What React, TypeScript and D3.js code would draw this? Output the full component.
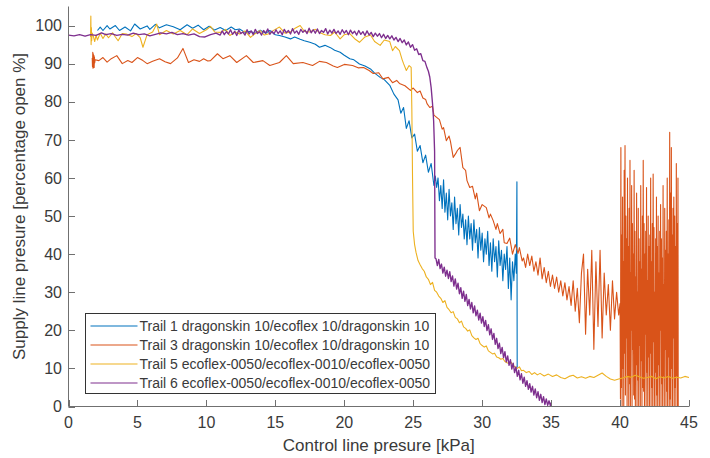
import React from 'react';
import * as d3 from 'd3';

type Pt = [number, number];

const xTicks = [0, 5, 10, 15, 20, 25, 30, 35, 40, 45];
const yTicks = [0, 10, 20, 30, 40, 50, 60, 70, 80, 90, 100];
const seriesNames = [
  'Trail 1 dragonskin 10/ecoflex 10/dragonskin 10',
  'Trail 3 dragonskin 10/ecoflex 10/dragonskin 10',
  'Trail 5 ecoflex-0050/ecoflex-0010/ecoflex-0050',
  'Trail 6 ecoflex-0050/ecoflex-0010/ecoflex-0050',
];
const seriesColors = ['#0072BD', '#D95319', '#EDB120', '#7E2F8E'];
const xLabel = 'Control line presure [kPa]';
const yLabel = 'Supply line presure [percentage open %]';

const trail1: Pt[] = [
  [2.1,98.7],[2.3,99.6],[2.5,98.7],[2.8,100.0],[3.0,99.1],[3.4,100.0],[3.7,98.7],[4.1,99.6],[4.5,98.6],[4.8,100.4],
  [5.2,99.1],[5.7,99.9],[5.9,99.0],[6.3,100.3],[6.6,99.4],[7.1,100.2],[7.6,99.7],[8.1,98.9],[8.6,100.2],[9.0,99.3],
  [9.4,100.1],[9.8,98.9],[10.2,99.8],[10.6,98.8],[11.0,99.5],[11.4,98.7],[11.8,99.6],[12.1,98.9],[12.4,99.1],[12.8,98.2],
  [13.2,98.5],[13.5,97.9],[13.9,98.8],[14.3,98.0],[14.6,98.7],[15.0,97.6],[15.3,97.4],[15.7,97.0],[16.1,96.5],[16.4,97.0],
  [16.8,96.4],[17.1,96.0],[17.5,95.6],[17.9,95.1],[18.2,94.3],[18.6,94.8],[19.0,94.2],[19.3,93.5],[19.7,93.0],[20.0,92.2],
  [20.4,91.3],[20.7,91.0],[21.1,89.9],[21.5,89.4],[21.9,88.6],[22.2,87.5],[22.6,86.4],[22.9,85.8],[23.3,84.3],[23.6,82.0],
  [23.9,80.5],[24.1,77.0],[24.3,78.5],[24.5,73.0],[24.7,75.0],[24.9,70.5],[25.1,71.5],[25.3,67.0],[25.5,68.5],[25.7,64.0],
  [25.9,66.0],[26.1,61.5],[26.3,63.8],[26.5,58.0],[26.6,60.5],[26.7,57.5],[26.8,60.0],[26.9,54.0],[27.0,58.0],[27.1,52.0],
  [27.2,59.5],[27.3,51.0],[27.4,56.0],[27.5,49.0],[27.6,57.0],[27.7,50.0],[27.8,53.5],[27.9,46.5],[28.0,55.0],[28.1,48.0],
  [28.2,52.0],[28.3,45.0],[28.4,53.0],[28.5,47.0],[28.6,50.5],[28.7,44.0],[28.8,49.0],[28.9,42.5],[29.0,50.0],[29.1,44.0],
  [29.2,48.0],[29.3,41.0],[29.4,49.0],[29.5,43.0],[29.6,46.5],[29.7,39.0],[29.8,47.0],[29.9,41.0],[30.0,45.5],[30.1,38.0],
  [30.2,44.0],[30.3,40.0],[30.4,46.0],[30.5,37.0],[30.6,43.0],[30.7,35.5],[30.8,44.0],[30.9,38.0],[31.0,42.0],[31.1,34.0],
  [31.2,43.5],[31.3,37.0],[31.4,41.0],[31.5,33.0],[31.6,40.0],[31.7,36.0],[31.8,42.0],[31.9,31.0],[32.0,39.0],[32.1,28.0],
  [32.2,38.0],[32.3,33.0],[32.4,40.0],[32.48,35.0],[32.52,59.0],[32.54,10.2],
];

const trail3: Pt[] = [
  [1.72,91.5],[1.74,89.2],[1.76,93.0],[1.78,88.8],[1.80,92.6],[1.82,89.6],[1.84,92.2],[1.86,89.0],[1.88,91.8],[1.90,90.2],
  [1.93,91.0],[2.2,90.8],[2.5,91.6],[2.8,90.4],[3.1,91.3],[3.5,92.1],[3.9,90.0],[4.3,90.8],[4.6,90.3],[5.0,91.6],
  [5.4,90.8],[5.7,90.0],[6.1,90.6],[6.6,91.3],[7.0,90.5],[7.4,90.0],[7.9,91.5],[8.3,94.0],[8.7,90.3],[9.1,91.0],
  [9.5,90.6],[9.8,91.3],[10.1,90.7],[10.3,90.8],[10.8,92.6],[11.2,91.3],[11.7,92.1],[12.2,90.3],[12.9,92.1],[13.4,90.3],
  [14.1,90.8],[14.6,89.5],[15.3,90.3],[15.8,92.1],[16.3,90.0],[17.0,90.3],[17.7,89.5],[18.2,90.6],[18.7,90.3],[19.2,89.4],
  [19.5,89.0],[20.0,89.8],[20.6,89.5],[21.0,88.9],[21.4,89.0],[21.8,88.2],[22.1,87.4],[22.5,87.6],[22.8,86.0],[23.2,86.4],
  [23.5,85.0],[23.8,85.6],[24.0,84.8],[24.4,84.2],[24.8,83.0],[25.0,83.6],[25.3,82.4],[25.5,82.8],[25.7,81.0],[25.9,80.6],
  [26.0,79.5],[26.2,78.5],[26.4,78.8],[26.5,76.5],[26.7,75.9],[26.9,75.3],[27.1,72.8],[27.2,73.2],[27.4,69.8],[27.6,71.0],
  [27.7,69.6],[27.9,65.4],[28.1,66.5],[28.2,67.2],[28.4,68.0],[28.6,62.7],[28.8,62.0],[28.9,59.3],[29.1,57.5],[29.3,57.8],
  [29.5,54.5],[29.6,56.0],[29.8,51.4],[30.0,53.0],[30.3,52.2],[30.5,49.5],[30.6,50.5],[30.8,48.8],[31.0,46.5],[31.1,48.0],
  [31.3,45.4],[31.5,46.5],[31.6,43.0],[31.8,42.8],[32.0,44.2],[32.2,40.0],[32.4,42.5],[32.6,40.2],[32.7,41.7],[32.9,38.2],
  [33.0,39.0],[33.15,36.5],[33.3,40.0],[33.45,37.0],[33.6,39.5],[33.75,35.5],[33.9,38.0],[34.05,34.5],[34.2,39.0],[34.35,33.5],
  [34.5,36.5],[34.65,32.5],[34.8,35.5],[34.95,31.5],[35.1,34.5],[35.25,31.0],[35.4,34.0],[35.55,30.0],[35.7,33.0],[35.85,29.0],
  [36.0,32.5],[36.15,28.0],[36.3,31.5],[36.45,26.5],[36.6,33.0],[36.75,25.0],[36.9,31.0],[37.05,22.0],[37.2,35.0],[37.35,40.0],
  [37.5,19.0],[37.65,36.0],[37.8,24.0],[37.95,41.0],[38.1,15.0],[38.25,38.0],[38.4,21.0],[38.55,41.0],[38.7,18.0],[38.85,35.0],
  [39.0,24.0],[39.15,32.0],[39.3,20.0],[39.45,33.0],[39.6,23.0],[39.75,30.0],[39.9,24.0],
  [40.00,27],[40.03,2],[40.06,68],[40.09,5],[40.12,45],[40.15,0],[40.18,55],[40.21,10],[40.24,38],[40.27,0],
  [40.30,62],[40.33,14],[40.36,68.5],[40.39,3],[40.42,50],[40.45,18],[40.48,44],[40.51,0],[40.54,60],[40.57,8],
  [40.60,42],[40.63,0],[40.66,52],[40.69,6],[40.72,64.6],[40.75,0],[40.78,35],[40.81,20],[40.84,58],[40.87,0],
  [40.90,48],[40.93,15],[40.96,40],[40.99,3],[41.02,62],[41.05,2],[41.08,46],[41.11,0],[41.14,34],[41.17,11],
  [41.20,56],[41.23,0],[41.26,30],[41.29,7],[41.32,52],[41.35,0],[41.38,44],[41.41,16],[41.44,38],[41.47,0],
  [41.50,58],[41.53,12],[41.56,36],[41.59,0],[41.62,50],[41.65,5],[41.68,64.6],[41.71,4],[41.74,48],[41.77,0],
  [41.80,40],[41.83,19],[41.86,46],[41.89,0],[41.92,57.5],[41.95,9],[41.98,33],[42.01,0],[42.04,50],[42.07,13],
  [42.10,42],[42.13,0],[42.16,45],[42.19,14],[42.22,60],[42.25,0],[42.28,38],[42.31,5],[42.34,48],[42.37,0],
  [42.40,61],[42.43,17],[42.46,47],[42.49,0],[42.52,30],[42.55,9],[42.58,44],[42.61,0],[42.64,55],[42.67,3],
  [42.70,42],[42.73,0],[42.76,50],[42.79,11],[42.82,35],[42.85,0],[42.88,46],[42.91,20],[42.94,53],[42.97,0],
  [43.00,44],[43.03,6],[43.06,39],[43.09,0],[43.12,58],[43.15,8],[43.18,32],[43.21,0],[43.24,52],[43.27,15],
  [43.30,41],[43.33,0],[43.36,46],[43.39,4],[43.42,60],[43.45,0],[43.48,40],[43.51,13],[43.54,49],[43.57,0],
  [43.60,72],[43.63,2],[43.66,56],[43.69,0],[43.72,68],[43.75,10],[43.78,45],[43.81,0],[43.84,52],[43.87,18],
  [43.90,55],[43.93,0],[43.96,50],[43.99,5],[44.02,42],[44.05,0],[44.08,63.8],[44.11,8],[44.14,48],[44.17,0],
  [44.20,60],[44.22,0],
];

const trail5: Pt[] = [
  [1.60,97.0],[1.62,102.5],[1.64,95.0],[1.66,99.5],[1.68,96.0],[1.72,98.0],[1.8,97.2],[1.9,95.8],[2.0,97.5],[2.1,96.2],
  [2.3,98.0],[2.5,96.6],[2.7,97.8],[2.9,96.8],[3.2,98.1],[3.4,97.0],[3.6,96.0],[3.9,97.9],[4.2,97.8],[4.6,97.1],
  [4.9,97.9],[5.2,96.8],[5.4,94.3],[5.6,96.5],[5.7,97.6],[6.1,98.3],[6.4,100.4],[6.6,97.6],[7.1,98.7],[7.6,97.8],
  [8.1,98.7],[8.6,97.6],[9.0,99.1],[9.5,97.9],[10.0,98.9],[10.3,99.8],[10.6,98.3],[11.0,98.2],[11.4,99.0],[11.7,97.4],
  [12.1,98.3],[12.4,97.8],[12.8,98.6],[13.2,96.9],[13.5,97.8],[13.9,98.7],[14.2,97.5],[14.6,97.9],[14.9,98.8],[15.3,99.6],
  [15.7,98.0],[16.1,98.3],[16.4,99.2],[16.8,100.0],[17.1,98.5],[17.5,98.3],[17.9,99.0],[18.2,98.2],[18.6,97.6],[19.0,97.4],
  [19.3,98.3],[19.7,96.5],[20.0,97.6],[20.4,97.9],[20.8,96.4],[21.1,95.6],[21.5,97.0],[21.9,97.5],[22.2,95.8],[22.6,94.8],
  [22.9,96.2],[23.3,95.8],[23.5,93.4],[23.7,94.5],[24.0,93.4],[24.2,91.0],[24.3,90.0],[24.5,88.2],[24.7,89.5],[24.85,89.0],
  [24.9,78.0],[24.95,60.0],[25.0,46.0],[25.1,42.5],[25.2,40.5],[25.35,38.3],[25.5,37.2],[25.65,36.2],[25.8,35.5],[25.95,34.0],
  [26.1,33.4],[26.25,32.0],[26.4,32.6],[26.55,30.5],[26.7,30.0],[26.85,29.0],[27.0,28.4],[27.15,27.3],[27.3,27.8],[27.45,26.0],
  [27.6,25.4],[27.75,24.6],[27.9,24.9],[28.05,23.4],[28.2,23.0],[28.35,22.0],[28.5,22.4],[28.65,20.9],[28.8,20.5],[28.95,19.8],
  [29.1,20.1],[29.25,18.6],[29.4,18.0],[29.55,17.6],[29.7,17.9],[29.85,16.5],[30.0,16.0],[30.15,15.6],[30.3,15.9],[30.45,14.6],
  [30.6,14.2],[30.75,13.8],[30.9,14.0],[31.05,13.0],[31.2,12.8],[31.35,12.4],[31.5,12.6],[31.65,11.8],[31.8,11.5],[31.95,11.3],
  [32.1,11.6],[32.25,10.8],[32.4,10.3],[32.55,10.0],[32.7,10.4],[32.85,9.4],[33.0,9.5],[33.2,8.9],[33.4,9.2],[33.6,8.4],
  [33.8,8.9],[34.0,8.3],[34.2,8.7],[34.5,8.0],[34.8,8.5],[35.1,7.9],[35.4,8.3],[35.7,7.6],[36.0,7.3],[36.3,7.9],
  [36.6,8.2],[36.9,7.5],[37.2,7.8],[37.5,7.4],[37.8,7.9],[38.1,7.6],[38.4,8.2],[38.7,8.8],[39.0,7.9],[39.3,7.2],
  [39.6,6.9],[39.9,7.2],[40.2,7.5],[40.5,7.9],[40.8,7.7],[41.1,8.2],[41.4,7.8],[41.7,7.4],[42.0,7.6],[42.3,7.9],
  [42.6,7.3],[42.9,7.8],[43.2,7.5],[43.5,7.9],[43.8,7.4],[44.1,7.7],[44.4,7.5],[44.7,7.9],[45.0,7.6],
];

const trail6: Pt[] = [
  [0.0,97.5],[0.4,97.3],[0.8,97.6],[1.2,97.2],[1.6,97.6],[2.0,97.4],[2.4,98.1],[2.7,97.6],[3.1,97.9],[3.5,97.4],
  [3.9,97.7],[4.3,97.5],[4.7,98.0],[5.1,97.6],[5.5,97.8],[5.9,97.3],[6.3,97.7],[6.7,98.1],[7.1,97.8],[7.5,98.2],
  [7.9,97.6],[8.3,97.9],[8.7,97.5],[9.1,97.8],[9.5,97.1],[9.9,97.0],[10.3,97.6],[10.7,98.0],[11.0,97.5],
  [11.15,98.6],[11.3,97.6],[11.45,98.4],[11.6,97.8],[11.75,98.9],[11.9,97.7],[12.05,98.5],[12.2,97.4],[12.35,98.8],[12.5,97.9],
  [12.65,98.3],[12.8,97.5],[12.95,98.9],[13.1,97.8],[13.25,98.6],[13.4,97.6],[13.55,99.0],[13.7,97.9],[13.85,98.4],[14.0,97.5],
  [14.15,98.7],[14.3,98.0],[14.45,99.1],[14.6,97.7],[14.75,98.5],[14.9,97.8],[15.05,98.9],[15.2,97.9],[15.35,98.6],[15.5,97.6],
  [15.65,99.0],[15.8,98.1],[15.95,98.7],[16.1,97.8],[16.25,99.2],[16.4,98.0],[16.55,98.6],[16.7,97.7],[16.85,99.0],[17.0,98.2],
  [17.15,98.8],[17.3,97.9],[17.45,99.3],[17.6,98.1],[17.75,98.9],[17.9,98.0],[18.05,99.1],[18.2,97.9],[18.35,98.7],[18.5,98.2],
  [18.65,99.2],[18.8,97.8],[18.95,98.8],[19.1,98.0],[19.25,99.0],[19.4,97.9],[19.55,98.6],[19.7,97.7],[19.85,98.9],[20.0,98.0],
  [20.15,98.7],[20.3,97.6],[20.45,98.8],[20.6,97.9],[20.75,98.5],[20.9,97.5],[21.05,98.7],[21.2,97.7],[21.35,98.4],[21.5,97.4],
  [21.65,98.6],[21.8,97.5],[21.95,98.2],[22.1,97.1],[22.25,98.0],[22.4,97.2],[22.55,97.9],[22.7,96.8],[22.85,97.7],[23.0,96.6],
  [23.15,97.4],[23.3,96.5],[23.45,97.3],[23.6,96.2],[23.75,96.9],[23.9,95.8],[24.05,96.6],[24.2,95.5],[24.35,96.2],[24.5,94.9],
  [24.65,95.7],[24.8,94.3],[24.95,95.0],[25.1,93.5],[25.25,93.9],[25.4,92.4],[25.55,92.6],[25.7,90.8],[25.85,90.6],[26.0,88.9],
  [26.1,88.0],[26.2,86.5],[26.3,83.7],[26.4,79.5],[26.48,75.0],[26.55,67.0],[26.58,39.0],
  [26.65,38.8],[26.75,37.0],[26.85,38.6],[26.95,36.2],[27.05,37.4],[27.15,35.0],[27.25,36.6],[27.35,34.2],[27.45,35.8],[27.55,33.6],
  [27.65,35.4],[27.75,32.8],[27.85,34.3],[27.95,31.6],[28.05,33.5],[28.15,30.8],[28.25,32.4],[28.35,29.6],[28.45,31.2],[28.55,28.4],
  [28.65,30.3],[28.75,27.6],[28.85,29.4],[28.95,26.5],[29.05,28.1],[29.15,25.6],[29.25,27.3],[29.35,24.6],[29.45,26.4],[29.55,23.8],
  [29.65,25.3],[29.75,22.7],[29.85,24.5],[29.95,21.9],[30.05,23.6],[30.15,21.0],[30.25,22.6],[30.35,19.9],[30.45,21.5],[30.55,18.8],
  [30.65,20.4],[30.75,17.6],[30.85,19.2],[30.95,16.3],[31.05,17.9],[31.15,15.2],[31.25,16.6],[31.35,13.9],[31.45,15.5],[31.55,12.8],
  [31.65,14.4],[31.75,11.7],[31.85,13.3],[31.95,10.8],[32.05,12.3],[32.15,9.8],[32.25,11.4],[32.35,8.9],[32.45,10.4],[32.55,7.9],
  [32.65,9.5],[32.75,7.0],[32.85,8.6],[32.95,6.1],[33.05,7.7],[33.15,5.3],[33.25,6.8],[33.35,4.5],[33.45,6.0],[33.55,3.8],
  [33.65,5.3],[33.75,3.0],[33.85,4.6],[33.95,2.3],[34.05,3.9],[34.15,1.6],[34.25,3.2],[34.35,1.0],[34.45,2.6],[34.55,0.5],
  [34.65,2.0],[34.75,0.3],[34.85,1.5],[34.95,0.2],[35.0,1.0],
];

const seriesData: Pt[][] = [trail1, trail3, trail5, trail6];
const seriesWidths = [1.1, 1.1, 1.1, 1.35];

export default function App() {
  const W = 710;
  const H = 458;
  const x = d3.scaleLinear().domain([0, 45]).range([68.5, 689]);
  const y = d3.scaleLinear().domain([0, 105]).range([406.5, 6.5]);
  const line = d3
    .line<Pt>()
    .x((d) => x(d[0]))
    .y((d) => y(d[1]));
  const axisColor = '#707070';
  const textColor = '#3a3a3a';
  const font = "'Liberation Sans', Arial, sans-serif";
  const tickLen = 6.5;

  const legX = 85.5;
  const legY = 313.5;
  const legW = 350;
  const legH = 80;
  const rowH = 19;

  return (
    <svg
      width={W}
      height={H}
      viewBox={`0 0 ${W} ${H}`}
      style={{ position: 'absolute', left: 0, top: 0, background: '#fff' }}
      fontFamily={font}
    >
      <rect x={0} y={0} width={W} height={H} fill="#fff" />
      {seriesData.map((d, i) => (
        <path
          key={i}
          d={line(d) || ''}
          fill="none"
          stroke={seriesColors[i]}
          strokeWidth={seriesWidths[i]}
          strokeLinejoin="round"
        />
      ))}
      <line x1={x(0)} x2={x(45)} y1={406.5} y2={406.5} stroke={axisColor} strokeWidth={1} />
      <line x1={68.5} x2={68.5} y1={y(105)} y2={y(0)} stroke={axisColor} strokeWidth={1} />
      {xTicks.map((t) => (
        <g key={'x' + t}>
          <line
            x1={Math.round(x(t)) + 0.5}
            x2={Math.round(x(t)) + 0.5}
            y1={406.5}
            y2={406.5 - tickLen}
            stroke={axisColor}
          />
          <text x={x(t)} y={428} textAnchor="middle" fontSize={16} fill={textColor}>
            {t}
          </text>
        </g>
      ))}
      {yTicks.map((t) => (
        <g key={'y' + t}>
          <line
            x1={68.5}
            x2={68.5 + tickLen}
            y1={Math.round(y(t)) + 0.5}
            y2={Math.round(y(t)) + 0.5}
            stroke={axisColor}
          />
          <text x={62} y={y(t)} dy="0.36em" textAnchor="end" fontSize={16} fill={textColor}>
            {t}
          </text>
        </g>
      ))}
      <text x={(x(0) + x(45)) / 2} y={451} textAnchor="middle" fontSize={17} fill={textColor}>
        {xLabel}
      </text>
      <text
        transform={`translate(25,${(y(0) + y(105)) / 2}) rotate(-90)`}
        textAnchor="middle"
        fontSize={17}
        fill={textColor}
      >
        {yLabel}
      </text>
      <rect x={legX} y={legY} width={legW} height={legH} fill="#fff" stroke="#333" strokeWidth={1} />
      {seriesNames.map((name, i) => {
        const cy = legY + 12.5 + i * rowH;
        return (
          <g key={name}>
            <line x1={legX + 5} x2={legX + 52} y1={cy} y2={cy} stroke={seriesColors[i]} strokeWidth={1.1} />
            <text x={legX + 54} y={cy} dy="0.36em" fontSize={14} fill={textColor}>
              {name}
            </text>
          </g>
        );
      })}
    </svg>
  );
}
